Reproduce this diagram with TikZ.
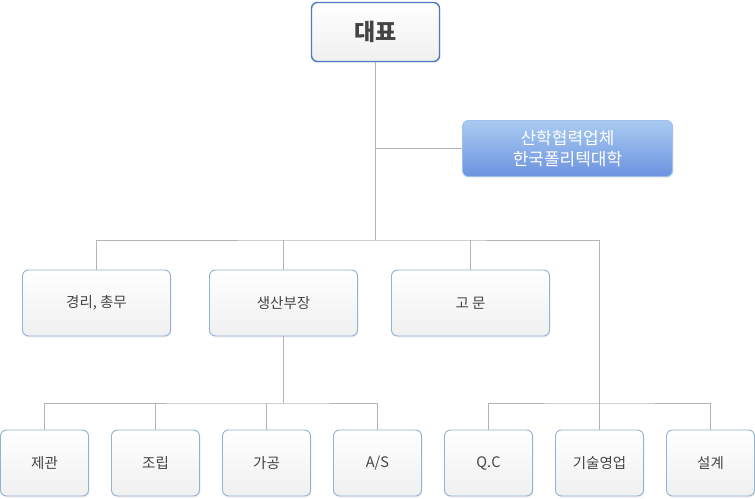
\documentclass[tikz,border=0pt]{standalone}
\usepackage{fontspec}
\setmainfont{Noto Sans CJK KR}
\usepackage{xcolor}
\usetikzlibrary{positioning,shadows,calc}

\definecolor{boxline}{HTML}{93B1D4}
\definecolor{ceoline}{HTML}{4D7DBE}
\definecolor{txt}{HTML}{444444}
\definecolor{wire}{HTML}{B4B4B4}
\definecolor{ptop}{HTML}{A9CAF0}
\definecolor{pbot}{HTML}{6C93E0}

\begin{document}
\begin{tikzpicture}[x=1pt,y=-1pt,font=\fontsize{14.5}{16}\selectfont,
  unit/.style={draw=boxline,line width=0.9pt,rounded corners=6pt,
    top color=white,bottom color=black!6,text=txt,
    drop shadow={opacity=0.12,shadow xshift=1pt,shadow yshift=-1.5pt},
    minimum width=148pt,minimum height=66pt,inner sep=2pt,align=center},
  leaf/.style={unit,minimum width=88pt},
  link/.style={draw=wire,line width=0.8pt}]
  \useasboundingbox (0,0) rectangle (755,498);
  % top: head and partner
  \node[unit,draw=ceoline,line width=1.4pt,minimum width=128pt,minimum height=59pt,
    font=\fontsize{23}{26}\selectfont\bfseries] (ceo) at (375.5,32) {대표};
  \node[unit,draw=ptop!80!pbot,text=white,top color=ptop,bottom color=pbot,
    minimum width=210pt,minimum height=56pt,
    font=\fontsize{17}{21}\selectfont] (partner) at (567.5,148.5) {산학협력업체\\한국폴리텍대학};
  % middle row
  \node[unit] (admin) at (96.5,303) {경리, 총무};
  \node[unit] (prod) at (283.5,303) {생산부장};
  \node[unit,minimum width=158pt] (advisor) at (470.5,303) {고 문};
  % bottom row
  \node[leaf] (weld) at (44.5,463) {제관};
  \node[leaf] (assy) at (155.5,463) {조립};
  \node[leaf] (mach) at (266.5,463) {가공};
  \node[leaf] (as) at (377.5,463) {A/S};
  \node[leaf] (qc) at (488.5,463) {Q.C};
  \node[leaf] (sales) at (599.5,463) {기술영업};
  \node[leaf] (design) at (710.5,463) {설계};
  % wiring
  \coordinate (hub) at (375.5,240);
  \coordinate (tech) at (599.5,240);
  \coordinate (pbus) at (283.5,403);
  \coordinate (tbus) at (599.5,403);
  \draw[link] (ceo) -- (hub);
  \draw[link] (partner.west) -- (partner.west -| hub);
  \draw[link] (admin.north) |- (hub) -- (tech) -- (sales.north);
  \draw[link] (prod.north) -- (prod.north |- hub);
  \draw[link] (advisor.north) -- (advisor.north |- hub);
  \draw[link] (prod.south) -- (pbus);
  \draw[link] (weld.north) |- (pbus) -| (as.north);
  \draw[link] (assy.north) -- (assy.north |- pbus);
  \draw[link] (mach.north) -- (mach.north |- pbus);
  \draw[link] (qc.north) |- (tbus) -| (design.north);
\end{tikzpicture}
\end{document}
